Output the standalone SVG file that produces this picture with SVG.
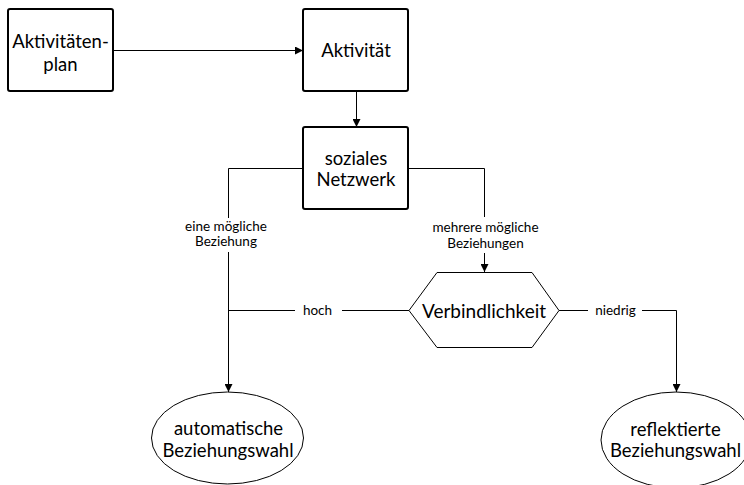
<svg xmlns="http://www.w3.org/2000/svg" width="744" height="485" viewBox="0 0 744 485">
  <style>
    .box { fill: #ffffff; stroke: #000000; stroke-width: 2; }
    .shape { fill: #ffffff; stroke: #000000; stroke-width: 1; }
    .edge { fill: none; stroke: #000000; stroke-width: 1; }
    .arrow { fill: none; stroke: #000000; stroke-width: 1; marker-end: url(#head); }
    text { font-family: Lato, "Open Sans", "Liberation Sans", sans-serif; fill: #000000; text-anchor: middle; }
    .big { font-size: 18.5px; }
    .lbl { font-size: 13.5px; }
  </style>
  <defs>
    <marker id="head" viewBox="0 0 10 10" refX="10" refY="5" markerWidth="8" markerHeight="8" markerUnits="userSpaceOnUse" orient="auto">
      <path d="M0,0 L10,5 L0,10 Z" fill="#000000"/>
    </marker>
  </defs>

  <!-- connectors -->
  <g id="connectors">
    <line class="arrow" x1="113" y1="50.5" x2="303" y2="50.5"/>
    <line class="arrow" x1="356.5" y1="91" x2="356.5" y2="127"/>
    <!-- left branch: one possible relation -->
    <polyline class="edge" points="303,168.5 228.5,168.5 228.5,218"/>
    <line class="arrow" x1="228.5" y1="252" x2="228.5" y2="392"/>
    <!-- right branch: several possible relations -->
    <polyline class="edge" points="408,168.5 484.5,168.5 484.5,217"/>
    <line class="arrow" x1="484.5" y1="253" x2="484.5" y2="272"/>
    <!-- high commitment -->
    <line class="edge" x1="409" y1="310.5" x2="342" y2="310.5"/>
    <line class="edge" x1="295" y1="310.5" x2="228.5" y2="310.5"/>
    <!-- low commitment -->
    <line class="edge" x1="559" y1="310.5" x2="588" y2="310.5"/>
    <polyline class="arrow" points="642,310.5 676.5,310.5 676.5,392"/>
    <text class="lbl" x="226" y="230.5">eine mögliche</text>
    <text class="lbl" x="226" y="246">Beziehung</text>
    <text class="lbl" x="485.5" y="232">mehrere mögliche</text>
    <text class="lbl" x="485.5" y="247.5">Beziehungen</text>
    <text class="lbl" x="317.5" y="315">hoch</text>
    <text class="lbl" x="615.5" y="315">niedrig</text>
  </g>

  <g id="aktivitaetenplan">
    <rect class="box" x="8" y="9" width="105" height="82" rx="2"/>
    <text class="big" x="60.5" y="47.5">Aktivitäten-</text>
    <text class="big" x="60.5" y="70.5">plan</text>
  </g>

  <g id="aktivitaet">
    <rect class="box" x="303" y="9" width="105" height="82" rx="2"/>
    <text class="big" x="356" y="57">Aktivität</text>
  </g>

  <g id="soziales-netzwerk">
    <rect class="box" x="303" y="127" width="105" height="82" rx="2"/>
    <text class="big" x="356" y="165">soziales</text>
    <text class="big" x="356" y="185.5">Netzwerk</text>
  </g>

  <g id="verbindlichkeit">
    <polygon class="shape" points="437,272.5 532,272.5 559,310.5 532,347.5 437,347.5 409,310.5"/>
    <text class="big" x="484" y="317.5" style="font-size:19px">Verbindlichkeit</text>
  </g>

  <g id="automatische-beziehungswahl">
    <ellipse class="shape" cx="227.5" cy="438" rx="76" ry="46"/>
    <text class="big" x="228.5" y="435">automatische</text>
    <text class="big" x="228" y="457">Beziehungswahl</text>
  </g>

  <g id="reflektierte-beziehungswahl">
    <ellipse class="shape" cx="676" cy="440" rx="75" ry="48"/>
    <text class="big" x="675.5" y="436">reflektierte</text>
    <text class="big" x="675.5" y="457">Beziehungswahl</text>
  </g>
</svg>
